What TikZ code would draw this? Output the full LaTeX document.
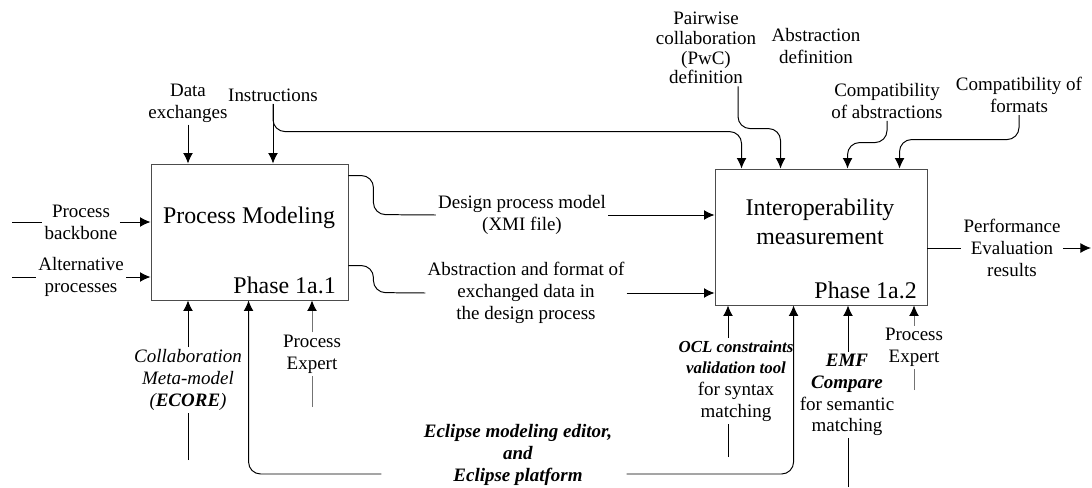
\documentclass[tikz,border=0pt]{standalone}
\usepackage{fontspec}
\setmainfont{Liberation Serif}
\usetikzlibrary{arrows.meta,calc,positioning}
\tikzset{
	box/.style={draw=black!70, line width=0.6pt, minimum width=5.3cm, minimum height=3.4cm, inner sep=0pt},
	lbl/.style={align=center, inner sep=1.5pt, font=\fontsize{13.5}{15.5}\selectfont},
	title/.style={align=center, inner sep=0pt, font=\fontsize{17}{20.5}\selectfont},
	wire/.style={line width=0.7pt},
	gwire/.style={line width=0.6pt, draw=black!55},
	flow/.style={-{Latex[length=7.5pt,width=7pt,color=black]}},
	rc/.style={rounded corners=0.3cm},
}
\newcommand{\bi}[1]{\textbf{\textit{#1}}}
\begin{document}
\begin{tikzpicture}[x=0.025cm, y=-0.025cm]
			%%%%% START %%%%%
			\useasboundingbox (0,0) rectangle (1092,487);
			
			\node[box, minimum width=4.925cm] (pm) at (249.5,232) {};
			\node[box] (im) at (821,237) {};
			\node[title] (pmtitle) at (249,218) {Process Modeling};
			\node[title, anchor=east] (pmphase) at (336,285) {Phase 1a.1};
			\node[title] (imtitle) at (820,222) {Interoperability\\measurement};
			\node[title, anchor=east] (imphase) at (917,290) {Phase 1a.2};
			
			\node[lbl] (lbackbone) at (81,222) {Process\\backbone};
			\node[lbl] (lalt) at (81,277) {Alternative\\processes};
			\node[lbl] (ldata) at (188,103) {Data\\exchanges};
			\node[lbl] (linstr) at (273,95) {Instructions};
			\node[lbl, font=\fontsize{13.5}{14}\selectfont] (lpwc) at (706,48) {Pairwise\\collaboration\\(PwC)\\definition};
			\node[lbl] (labsdef) at (816,46) {Abstraction\\definition};
			\node[lbl] (lcompabs) at (887,101) {Compatibility\\of abstractions};
			\node[lbl] (lcompfmt) at (1019,95) {Compatibility of\\formats};
			\node[lbl] (ldesign) at (522,215) {Design process model\\(XMI file)};
			\node[lbl] (lformat) at (526,293) {Abstraction and format of\\exchanged data in\\the design process};
			\node[lbl] (lperf) at (1012,248) {Performance\\Evaluation\\results};
			\node[lbl] (lcollab) at (188,380) {\textit{Collaboration}\\\textit{Meta-model}\\\textit{(\textbf{ECORE})}};
			\node[lbl] (lexpa) at (312,354) {Process\\Expert};
			\node[lbl] (leclipse) at (518,455) {\bi{Eclipse modeling editor,}\\\bi{and}\\\bi{Eclipse platform}};
			\node[lbl] (locl) at (736,381) {{\fontsize{12}{15.5}\selectfont\bi{OCL constraints}}\\{\fontsize{12}{15.5}\selectfont\bi{validation tool}}\\for syntax\\matching};
			\node[lbl] (lemf) at (847,395) {\bi{EMF}\\\bi{Compare}\\for semantic\\matching};
			\node[lbl] (lexpb) at (914,347.5) {Process\\Expert};
			
			\coordinate (cbackbone) at (12,222);
			\coordinate (calt) at (12,277);
			\coordinate (cperf) at (1091,248);
			\coordinate (ccollab) at (188,460);
			\coordinate (cexpa) at (312,407);
			\coordinate (cocl) at (728,457);
			\coordinate (cemf) at (848,487);
			\coordinate (cexpb) at (914,390);
			\coordinate (ebase) at (0,474);
			
			\draw[wire] (cbackbone) -- (lbackbone.west);
			\draw[wire, flow] (lbackbone.east) -- (lbackbone.east -| pm.west);
			\draw[wire] (calt) -- (lalt.west);
			\draw[wire, flow] (lalt.east) -- (lalt.east -| pm.west);
			
			\draw[wire, flow] (ldata.south) -- (ldata.south |- pm.north);
			\draw[wire, flow] (linstr.south) -- (linstr.south |- pm.north);
			\draw[wire, flow, rc] (linstr.south) |- ($(im.north west)+(27,-37)$) -- ($(im.north west)+(27,0)$);
			\draw[wire, flow, rc] ($(lpwc.south)+(32,0)$) |- ($(im.north west)+(66,-40)$) -- ($(im.north west)+(66,0)$);
			\draw[wire, flow, rc] (lcompabs.south) |- ($(im.north west)+(133,-26)$) -- ($(im.north west)+(133,0)$);
			\draw[wire, flow, rc] (lcompfmt.south) |- ($(im.north west)+(185,-29)$) -- ($(im.north west)+(185,0)$);
			
			\draw[wire, rc] ($(pm.north east)+(0,12)$) -- ++(25,0) -- ++(0,39) -- (ldesign.west);
			\draw[wire, flow] (ldesign.east) -- (ldesign.east -| im.west);
			\draw[wire, rc] ($(pm.north east)+(0,102)$) -- ++(25,0) -- ++(0,27) -- (lformat.west);
			\draw[wire, flow] (lformat.east) -- (lformat.east -| im.west);
			
			\draw[wire] ($(im.east)+(0,11)$) -- (lperf.west);
			\draw[wire, flow] (lperf.east) -- (cperf);
			
			\draw[wire] (ccollab) -- (lcollab.south);
			\draw[wire, flow] (lcollab.north) -- (lcollab.north |- pm.south);
			\draw[gwire] (cexpa) -- (lexpa.south);
			\draw[gwire, flow] (lexpa.north) -- (lexpa.north |- pm.south);
			
			\draw[wire, flow, rc] ($(leclipse.west |- ebase)+(-40,0)$) -| ($(pm.south west)+(98,0)$);
			\draw[wire, flow, rc] ($(leclipse.east |- ebase)+(12,0)$) -| ($(im.south west)+(79,0)$);
			
			\draw[wire] (cocl) -- (cocl |- locl.south);
			\draw[wire, flow] (cocl |- locl.north) -- (cocl |- im.south);
			\draw[wire] (cemf) -- (cemf |- lemf.south);
			\draw[wire, flow] (cemf |- lemf.north) -- (cemf |- im.south);
			\draw[gwire] (cexpb) -- (lexpb.south);
			\draw[gwire, flow] (lexpb.north) -- (lexpb.north |- im.south);
			%%%%% END %%%%%
\end{tikzpicture}
\end{document}
